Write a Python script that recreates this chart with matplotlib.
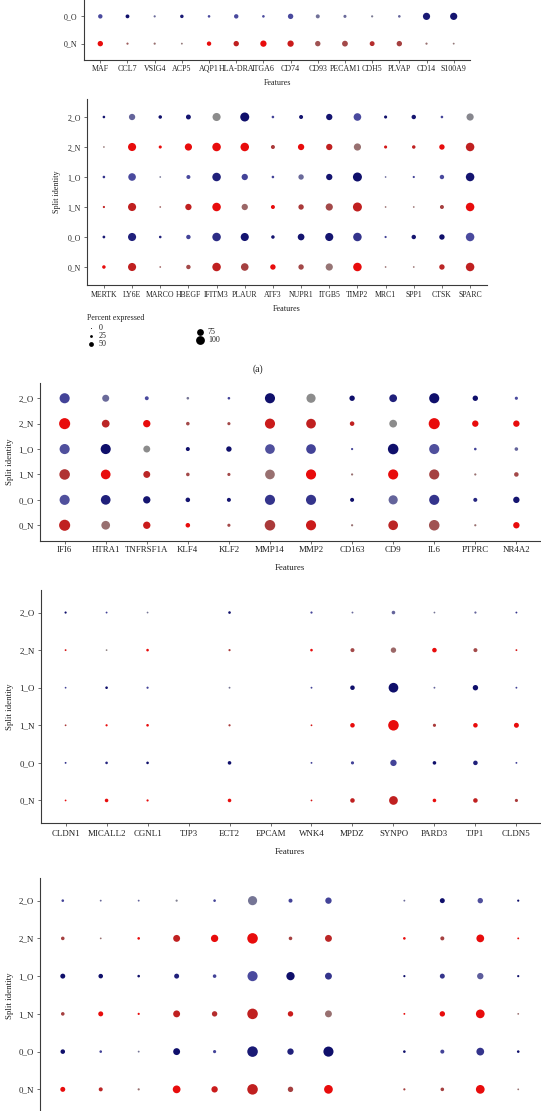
import numpy as np
import matplotlib
matplotlib.use('Agg')
import matplotlib.pyplot as plt
from matplotlib.colors import LinearSegmentedColormap

W, H = 541, 1111
plt.rcParams['font.family'] = ['Liberation Serif', 'DejaVu Serif']

nan = np.nan
ROWS = ['2_O', '2_N', '1_O', '1_N', '0_O', '0_N']

# panel 1 (only the two bottom rows are inside the picture)
P1_ROWS = ['0_O', '0_N']
P1_FEATS = ['MAF', 'CCL7', 'VSIG4', 'ACP5', 'AQP1', 'HLA-DRA', 'ITGA6', 'CD74',
            'CD93', 'PECAM1', 'CDH5', 'PLVAP', 'CD14', 'S100A9']
P1_PCT = [[44, 37, 17, 33, 22, 44, 22, 56, 39, 28, 17, 22, 78, 78],
          [56, 17, 17, 13, 44, 56, 67, 67, 56, 61, 50, 56, 17, 13]]
P1_LVL = [[0.55, 1.0, 0.3, 0.9, 0.55, 0.55, 0.55, 0.55, 0.25, 0.3, 0.15, 0.35, 0.9, 0.95],
          [1.0, 0.4, 0.3, 0.2, 1.0, 0.8, 1.0, 0.85, 0.45, 0.5, 0.7, 0.55, 0.3, 0.2]]

# panel 2
P2_FEATS = ['MERTK', 'LY6E', 'MARCO', 'HBEGF', 'IFITM3', 'PLAUR', 'ATF3', 'NUPR1',
            'ITGB5', 'TIMP2', 'MRC1', 'SPP1', 'CTSK', 'SPARC']
P2_PCT = [[22, 67, 33, 50, 89, 100, 22, 39, 67, 83, 28, 44, 22, 78],
          [11, 89, 28, 78, 94, 94, 39, 67, 67, 78, 28, 33, 56, 94],
          [22, 83, 11, 39, 94, 67, 22, 56, 67, 100, 11, 17, 44, 94],
          [17, 89, 11, 67, 94, 67, 39, 56, 78, 100, 11, 11, 39, 94],
          [24, 89, 22, 44, 94, 89, 33, 72, 89, 94, 17, 44, 56, 94],
          [33, 89, 11, 44, 94, 83, 56, 56, 78, 94, 11, 11, 56, 94]]
P2_LVL = [[0.95, 0.35, 1.0, 0.95, 0.0, 1.0, 0.6, 0.95, 0.95, 0.55, 1.0, 0.95, 0.6, 0.05],
          [0.2, 1.0, 1.0, 1.0, 1.0, 1.0, 0.6, 1.0, 0.8, 0.3, 0.9, 0.8, 1.0, 0.8],
          [0.7, 0.55, 0.2, 0.55, 0.85, 0.6, 0.6, 0.3, 0.95, 1.0, 0.3, 0.6, 0.55, 0.95],
          [0.8, 0.8, 0.4, 0.8, 1.0, 0.35, 1.0, 0.6, 0.5, 0.8, 0.3, 0.3, 0.55, 1.0],
          [0.9, 0.85, 0.85, 0.6, 0.75, 0.95, 0.95, 0.95, 0.95, 0.7, 0.6, 0.95, 1.0, 0.55],
          [1.0, 0.8, 0.4, 0.5, 0.8, 0.55, 1.0, 0.5, 0.25, 1.0, 0.3, 0.3, 0.75, 0.8]]

# panel 3
P3_FEATS = ['IFI6', 'HTRA1', 'TNFRSF1A', 'KLF4', 'KLF2', 'MMP14', 'MMP2', 'CD163',
            'CD9', 'IL6', 'PTPRC', 'NR4A2']
P3_PCT = [[87, 58, 29, 17, 17, 87, 78, 43, 65, 87, 43, 22],
          [96, 65, 61, 26, 22, 87, 83, 35, 65, 96, 52, 52],
          [87, 87, 57, 30, 43, 83, 83, 13, 91, 87, 17, 26],
          [91, 83, 57, 26, 22, 83, 87, 13, 87, 87, 13, 35],
          [87, 83, 61, 35, 30, 87, 87, 30, 78, 87, 30, 52],
          [96, 74, 61, 35, 22, 91, 87, 13, 83, 91, 13, 52]]
P3_LVL = [[0.6, 0.3, 0.55, 0.2, 0.6, 1.0, 0.0, 1.0, 0.85, 1.0, 1.0, 0.55],
          [1.0, 0.75, 1.0, 0.5, 0.5, 0.85, 0.8, 0.8, 0.0, 1.0, 1.0, 1.0],
          [0.5, 1.0, 0.0, 1.0, 1.0, 0.5, 0.6, 0.6, 1.0, 0.5, 0.6, 0.35],
          [0.65, 1.0, 0.75, 0.5, 0.5, 0.3, 1.0, 0.3, 1.0, 0.55, 0.3, 0.5],
          [0.5, 0.85, 0.95, 0.95, 0.95, 0.7, 0.7, 1.0, 0.35, 0.7, 0.8, 0.95],
          [0.8, 0.3, 0.85, 1.0, 0.5, 0.6, 0.85, 0.3, 0.75, 0.45, 0.3, 1.0]]

# panel 4 (TJP3 and EPCAM have no dots)
P4_FEATS = ['CLDN1', 'MICALL2', 'CGNL1', 'TJP3', 'ECT2', 'EPCAM', 'WNK4', 'MPDZ',
            'SYNPO', 'PARD3', 'TJP1', 'CLDN5']
P4_PCT = [[13, 10, 9, nan, 17, nan, 13, 10, 26, 9, 13, 10],
          [10, 9, 17, nan, 13, nan, 17, 30, 43, 35, 30, 10],
          [9, 17, 13, nan, 10, nan, 10, 35, 83, 10, 43, 10],
          [9, 13, 17, nan, 13, nan, 9, 35, 91, 22, 35, 39],
          [10, 17, 17, nan, 26, nan, 10, 22, 52, 26, 35, 10],
          [9, 26, 13, nan, 26, nan, 9, 35, 74, 26, 35, 22]]
P4_LVL = [[1.0, 0.6, 0.2, nan, 1.0, nan, 0.6, 0.3, 0.35, 0.2, 0.35, 0.7],
          [0.9, 0.1, 1.0, nan, 0.6, nan, 1.0, 0.5, 0.35, 1.0, 0.5, 0.9],
          [0.6, 1.0, 0.6, nan, 0.2, nan, 0.6, 1.0, 1.0, 0.35, 1.0, 0.6],
          [0.6, 1.0, 1.0, nan, 0.6, nan, 0.9, 1.0, 1.0, 0.6, 1.0, 1.0],
          [0.7, 0.8, 1.0, nan, 1.0, nan, 0.6, 0.6, 0.6, 1.0, 0.85, 0.6],
          [1.0, 1.0, 1.0, nan, 1.0, nan, 0.9, 0.8, 0.8, 1.0, 0.8, 0.6]]

# panel 5 (feature names are cut off at the bottom of the picture)
P5_FEATS = [''] * 13
P5_PCT = [[17, 10, 10, 13, 17, 78, 30, 52, nan, 10, 39, 43, 13],
          [26, 9, 17, 57, 61, 91, 26, 57, nan, 17, 30, 65, 10],
          [39, 35, 17, 39, 26, 87, 70, 57, nan, 13, 39, 52, 13],
          [26, 39, 13, 57, 43, 91, 43, 57, nan, 10, 43, 74, 9],
          [35, 17, 10, 57, 22, 91, 52, 87, nan, 17, 30, 65, 17],
          [39, 30, 13, 65, 52, 91, 43, 74, nan, 13, 26, 74, 9]]
P5_LVL = [[0.6, 0.3, 0.35, 0.1, 0.6, 0.2, 0.6, 0.6, nan, 0.3, 1.0, 0.5, 1.0],
          [0.55, 0.3, 1.0, 0.8, 1.0, 1.0, 0.55, 0.75, nan, 1.0, 0.55, 1.0, 1.0],
          [1.0, 1.0, 1.0, 0.85, 0.6, 0.55, 1.0, 0.7, nan, 1.0, 0.7, 0.4, 1.0],
          [0.55, 1.0, 1.0, 0.8, 0.7, 0.8, 0.85, 0.3, nan, 1.0, 1.0, 1.0, 0.3],
          [1.0, 0.6, 0.2, 1.0, 0.6, 0.9, 0.85, 1.0, nan, 1.0, 0.6, 0.7, 1.0],
          [1.0, 0.75, 0.3, 1.0, 0.85, 0.8, 0.55, 1.0, nan, 0.55, 0.55, 1.0, 0.3]]

LEGEND_PCT = [0, 25, 50, 75, 100]

red_cm = LinearSegmentedColormap.from_list(
    'n', [(0, '#8c8c8c'), (0.3, '#987070'), (0.55, '#a54040'), (0.8, '#c02020'), (1, '#e80c0c')])
blue_cm = LinearSegmentedColormap.from_list(
    'o', [(0, '#8c8c8c'), (0.3, '#6a6a9a'), (0.55, '#4a4a9e'), (0.8, '#262680'), (1, '#0f0f6b')])


def px_axes(fig, left, top, right, bottom):
    return fig.add_axes([left / W, 1 - bottom / H, (right - left) / W, (bottom - top) / H])


def to_s(pct, dmax):
    d_px = 0.8 + dmax * np.asarray(pct, float) / 100
    return (d_px * 0.72) ** 2


def dotplot(ax, feats, rows, pct, lvl, dmax, fs, xpad):
    n = len(feats)
    for i, r in enumerate(rows):
        y = len(rows) - 1 - i
        p = np.array(pct[i], float)
        l = np.array(lvl[i], float)
        ok = ~np.isnan(p)
        cm = red_cm if r.endswith('N') else blue_cm
        ax.scatter(np.arange(n)[ok], np.full(ok.sum(), y), s=to_s(p[ok], dmax),
                   c=cm(l[ok]), linewidths=0, zorder=3)
    ax.set_xlim(-0.6, n - 0.4)
    ax.set_ylim(-0.6, len(rows) - 0.4)
    ax.set_xticks(range(n))
    ax.set_xticklabels(feats, fontsize=fs)
    ax.set_yticks(range(len(rows)))
    ax.set_yticklabels(rows[::-1], fontsize=fs)
    for s in ['top', 'right']:
        ax.spines[s].set_visible(False)
    for s in ['left', 'bottom']:
        ax.spines[s].set_color('#3a3a3a')
        ax.spines[s].set_linewidth(0.8)
    ax.tick_params(axis='both', length=2, width=0.6, color='#555555', labelcolor='#222222')
    ax.tick_params(axis='x', pad=xpad)
    ax.tick_params(axis='y', pad=2.5)
    ax.patch.set_alpha(0)


fig = plt.figure(figsize=(W / 100, H / 100), dpi=100)

ax1 = px_axes(fig, 84, 0, 470, 60)
dotplot(ax1, P1_FEATS, P1_ROWS, P1_PCT, P1_LVL, 8.2, 5.7, 1.6)

ax2 = px_axes(fig, 87, 99, 487, 285)
dotplot(ax2, P2_FEATS, ROWS, P2_PCT, P2_LVL, 8.2, 5.6, 2.3)

ax3 = px_axes(fig, 40, 383, 541, 540.5)
dotplot(ax3, P3_FEATS, ROWS, P3_PCT, P3_LVL, 10.7, 6.4, 2.2)

ax4 = px_axes(fig, 41, 590, 541, 823)
dotplot(ax4, P4_FEATS, ROWS, P4_PCT, P4_LVL, 10.7, 6.4, 3.4)

ax5 = px_axes(fig, 40, 878, 541, 1112)
dotplot(ax5, P5_FEATS, ROWS, P5_PCT, P5_LVL, 10.7, 6.4, 3.4)

# overlay in pixel coordinates for the free text and the size legend
ov = fig.add_axes([0, 0, 1, 1])
ov.set_xlim(0, W)
ov.set_ylim(H, 0)
ov.axis('off')

txt = dict(color='#222222', ha='center', va='center')
ov.text(277, 83, 'Features', fontsize=5.8, **txt)
ov.text(287, 309, 'Features', fontsize=5.9, **txt)
ov.text(57, 192, 'Split identity', fontsize=5.9, rotation=90, **txt)
ov.text(290, 568, 'Features', fontsize=6.4, **txt)
ov.text(10, 462, 'Split identity', fontsize=6.4, rotation=90, **txt)
ov.text(290, 852, 'Features', fontsize=6.4, **txt)
ov.text(10, 707, 'Split identity', fontsize=6.4, rotation=90, **txt)
ov.text(10, 996, 'Split identity', fontsize=6.4, rotation=90, **txt)
ov.text(258, 369, '(a)', fontsize=7, **txt)

ov.text(87, 318, 'Percent expressed', fontsize=5.8, color='#222222', ha='left', va='center')
for i, v in enumerate(LEGEND_PCT):
    col, row = i // 3, i % 3
    lx = 91 + col * 109
    ly = 328 + row * 8 + col * 4
    ov.scatter([lx], [ly], s=to_s(v, 8.0), c='black', linewidths=0)
    ov.text(lx + 8, ly, str(v), fontsize=5.8, color='#222222', ha='left', va='center')

fig.savefig('out.png', dpi=100)
